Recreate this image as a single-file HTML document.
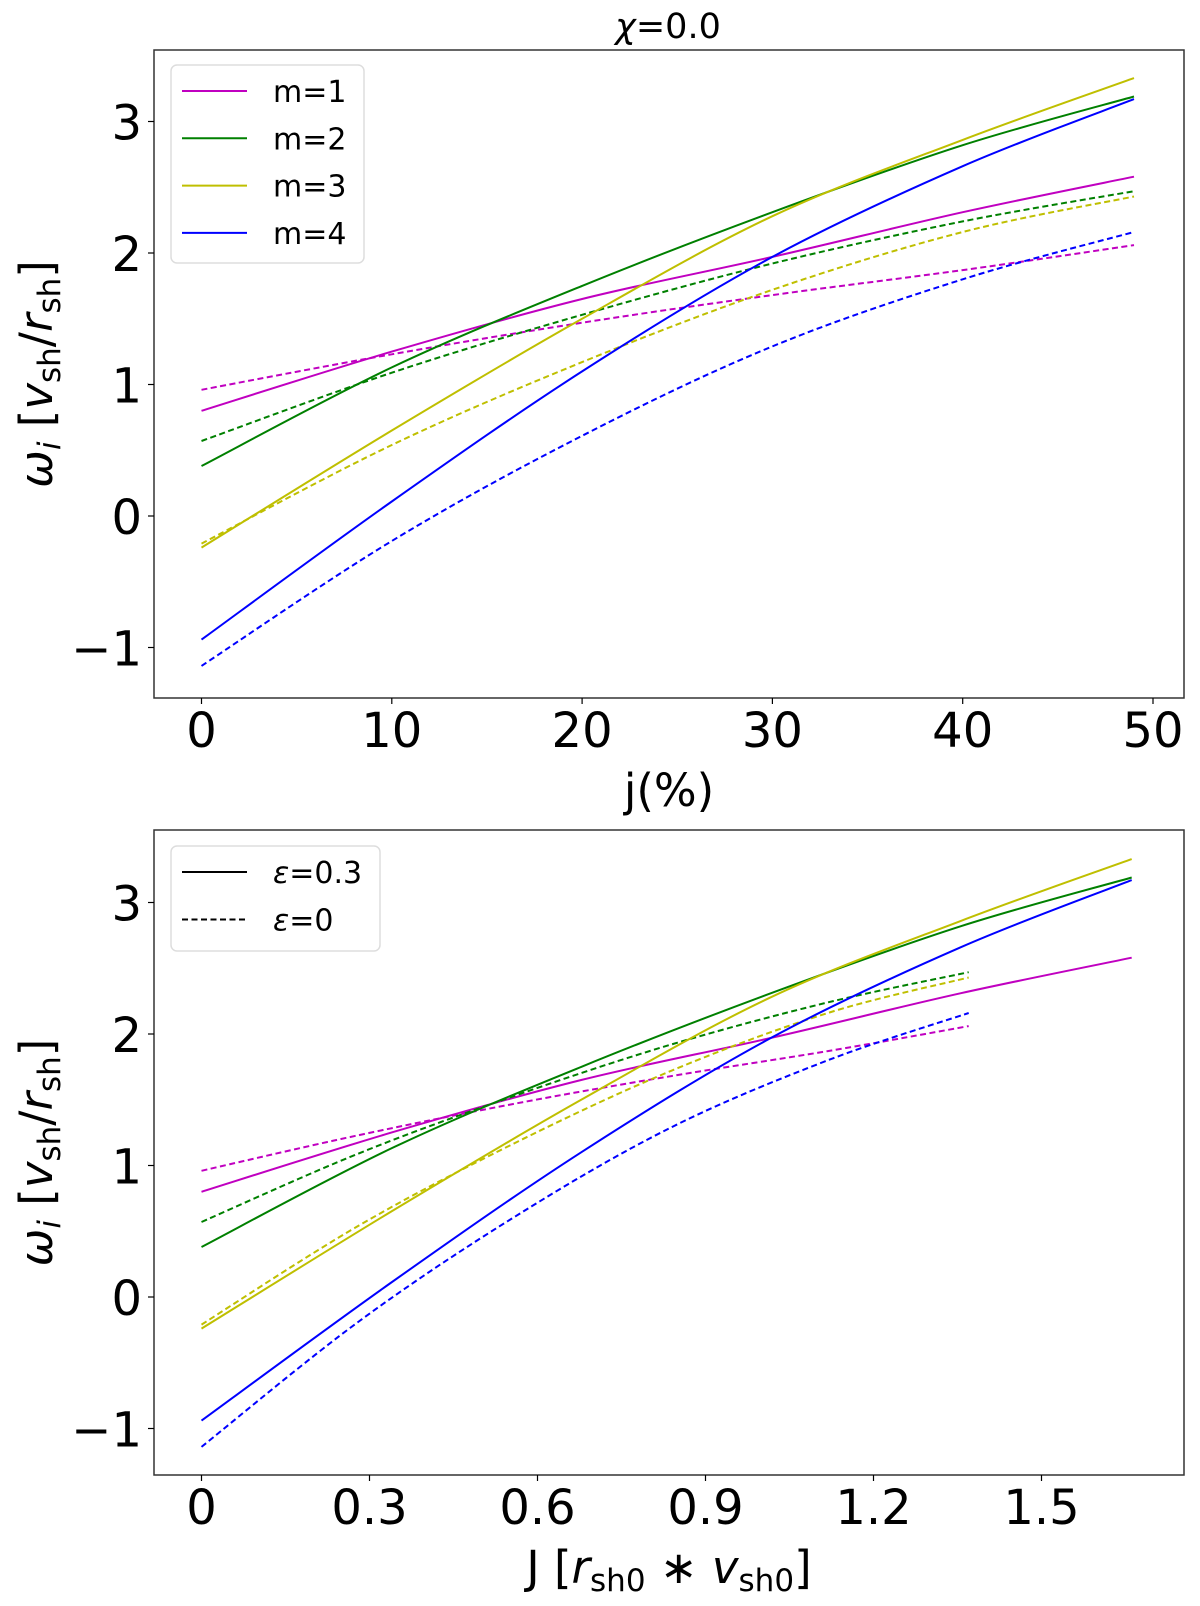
<!DOCTYPE html>
<html><head><meta charset="utf-8"><style>
body{margin:0;background:#fff;}
svg{display:block;font-family:"DejaVu Sans","Liberation Sans",sans-serif;}
</style></head><body>
<svg id="c" width="1200" height="1606" viewBox="0 0 1200 1606"></svg>
<script>
const jPercent=[0,10,20,30,40,49];
const m1Solid=[0.80,1.25,1.65,1.97,2.31,2.58];
const m1Dash=[0.96,1.23,1.47,1.68,1.87,2.06];
const m2Solid=[0.38,1.13,1.75,2.31,2.82,3.19];
const m2Dash=[0.57,1.09,1.53,1.92,2.24,2.47];
const m3Solid=[-0.24,0.65,1.50,2.28,2.86,3.33];
const m3Dash=[-0.21,0.54,1.17,1.72,2.16,2.43];
const m4Solid=[-0.94,0.11,1.10,1.97,2.66,3.17];
const m4Dash=[-1.14,-0.19,0.61,1.29,1.80,2.16];
const jToJSolid=[0.0339];
const jToJDash=[0.02796];
const topXTicks=[0,10,20,30,40,50];
const botXTicks=[0,0.3,0.6,0.9,1.2,1.5];
const botXTickLabels=["0","0.3","0.6","0.9","1.2","1.5"];
const yTicks=[-1,0,1,2,3];
const yTickLabels=["\u22121","0","1","2","3"];
const seriesNames=["m=1","m=2","m=3","m=4"];
const colors=["#c000c0","#008000","#bfbf00","#0000ff"];

const svg=document.getElementById('c');
const NS="http://www.w3.org/2000/svg";
function mk(tag,attrs,parent){const e=document.createElementNS(NS,tag);for(const k in attrs)e.setAttribute(k,attrs[k]);(parent||svg).appendChild(e);return e;}
function pathD(pts){let d="M"+pts[0][0].toFixed(1)+","+pts[0][1].toFixed(1);
 for(let i=0;i<pts.length-1;i++){const p0=pts[Math.max(0,i-1)],p1=pts[i],p2=pts[i+1],p3=pts[Math.min(pts.length-1,i+2)];
 const c1=[p1[0]+(p2[0]-p0[0])/6,p1[1]+(p2[1]-p0[1])/6],c2=[p2[0]-(p3[0]-p1[0])/6,p2[1]-(p3[1]-p1[1])/6];
 d+=" C"+c1[0].toFixed(1)+","+c1[1].toFixed(1)+" "+c2[0].toFixed(1)+","+c2[1].toFixed(1)+" "+p2[0].toFixed(1)+","+p2[1].toFixed(1);}
 return d;}

function panel(cfg){
 const g=mk('g',{});
 
 
 const sx=v=>cfg.x0+(v-cfg.xmin)*cfg.xs, sy=v=>cfg.y0-v*cfg.ys;
 const series=[[m1Solid,m1Dash],[m2Solid,m2Dash],[m3Solid,m3Dash],[m4Solid,m4Dash]];
 series.forEach((s,i)=>{
  [0,1].forEach(k=>{
   const f=cfg.conv[k];
   const pts=jPercent.map((j,n)=>[sx(j*f),sy(s[k][n])]);
   const p=mk('path',{d:pathD(pts),fill:"none",stroke:colors[i],"stroke-width":2,"stroke-dasharray":k?"6,3.5":"none"},g);
   
   
  });
 });
 const fr=mk('rect',{x:cfg.L,y:cfg.T,width:cfg.R-cfg.L,height:cfg.B-cfg.T,fill:"none",stroke:"#333","stroke-width":1.5},g);
 
 
 cfg.xticks.forEach((v,i)=>{const x=sx(v);
  mk('line',{x1:x,x2:x,y1:cfg.B,y2:cfg.B+6,stroke:"#000","stroke-width":1.2},g);
  const t=mk('text',{x:x,y:cfg.B+49,"font-size":48,"text-anchor":"middle"},g);t.textContent=cfg.xlabels[i];
  
  });
 yTicks.forEach((v,i)=>{const y=sy(v);
  mk('line',{x1:cfg.L-6,x2:cfg.L,y1:y,y2:y,stroke:"#000","stroke-width":1.2},g);
  const t=mk('text',{x:cfg.L-12,y:y+18,"font-size":48,"text-anchor":"end"},g);t.textContent=yTickLabels[i];
  
  });
 const yl=mk('text',{x:0,y:0,"font-size":45,"text-anchor":"middle",transform:`translate(52,${(cfg.T+cfg.B)/2}) rotate(-90)`},g);
 yl.innerHTML='<tspan font-style="italic">ω</tspan><tspan font-style="italic" font-size="31" dy="8">i</tspan><tspan dy="-8"> [</tspan><tspan font-style="italic">v</tspan><tspan font-size="31" dy="8">sh</tspan><tspan dy="-8">/</tspan><tspan font-style="italic">r</tspan><tspan font-size="31" dy="8">sh</tspan><tspan dy="-8">]</tspan>';
 
 
 const xl=mk('text',{x:(cfg.L+cfg.R)/2,y:cfg.B+108,"font-size":45,"text-anchor":"middle"},g);
 xl.innerHTML=cfg.xtitle;
 
 
 return g;
}
panel({name:'top-panel',L:154,R:1184,T:50,B:698,x0:201.5,xmin:0,xs:19.03,y0:516,ys:131.5,conv:[1,1],xticks:topXTicks,xlabels:topXTicks.map(String),xtitle:'j(%)'});
panel({name:'bottom-panel',L:154,R:1184,T:830,B:1475,x0:201.5,xmin:0,xs:560,y0:1297,ys:131.5,conv:[jToJSolid[0],jToJDash[0]],xticks:botXTicks,xlabels:botXTickLabels,
 xtitle:'J [<tspan font-style="italic">r</tspan><tspan font-size="31" dy="8">sh0</tspan><tspan dy="-8"> ∗ </tspan><tspan font-style="italic">v</tspan><tspan font-size="31" dy="8">sh0</tspan><tspan dy="-8">]</tspan>'});

const title=mk('text',{x:668,y:38,"font-size":35,"text-anchor":"middle"});
title.innerHTML='<tspan font-style="italic">χ</tspan>=0.0';



const lg=mk('g',{});


mk('rect',{x:171,y:65,width:193,height:198,rx:6,fill:"#fff",stroke:"#ddd","stroke-width":1.5},lg);
seriesNames.forEach((n,i)=>{const y=91+i*47.3;
 const e=mk('g',{},lg);
 
 
 mk('line',{x1:182,x2:247,y1:y,y2:y,stroke:colors[i],"stroke-width":2},e);
 const t=mk('text',{x:273,y:y+11,"font-size":30},e);t.textContent=n;});
const lg2=mk('g',{});


mk('rect',{x:171,y:846,width:209,height:105,rx:6,fill:"#fff",stroke:"#ddd","stroke-width":1.5},lg2);
[["ε","=0.3","none"],["ε","=0","6,3.5"]].forEach((a,i)=>{const y=872+i*47.5;
 const e=mk('g',{},lg2);
 
 
 mk('line',{x1:182,x2:247,y1:y,y2:y,stroke:"#000","stroke-width":2,"stroke-dasharray":a[2]},e);
 const t=mk('text',{x:273,y:y+11,"font-size":30},e);t.innerHTML='<tspan font-style="italic">'+a[0]+'</tspan>'+a[1];});
</script>
</body></html>
